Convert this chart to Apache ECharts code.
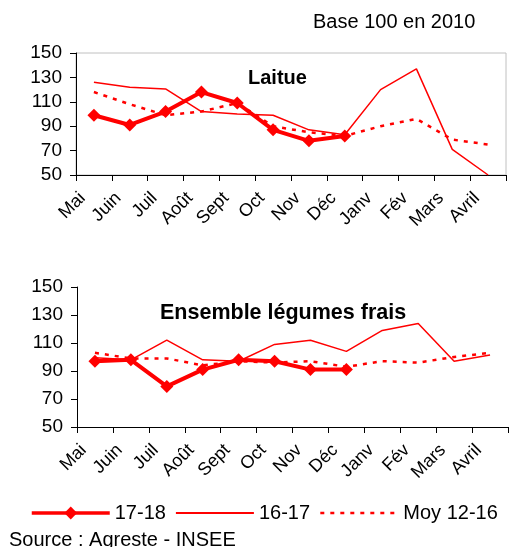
<!DOCTYPE html>
<html><head><meta charset="utf-8">
<script src="https://cdn.jsdelivr.net/npm/echarts@6/dist/echarts.min.js"></script>
<style>html,body{margin:0;padding:0;background:#fff}#c{width:509px;height:547px}</style>
</head><body><div id="c"></div>
<script>
const months = ['Mai','Juin','Juil','Août','Sept','Oct','Nov','Déc','Janv','Fév','Mars','Avril'];
const yTicks = [50, 70, 90, 110, 130, 150];
const laitue1718 = [99, 91, 102, 118, 109, 87, 78, 82, null, null, null, null];
const laitue1617 = [126, 122, 120.5, 102, 100, 99, 87, 83, 120, 137, 71, 50];
const laitueMoy = [118, 108, 99, 102, 109, 90, 85, 82, 90, 96, 79, 75];
const leg1718 = [97, 98, 79, 91, 98, 97, 91, 91, null, null, null, null];
const leg1617 = [99.5, 98, 112, 98, 97, 109, 112, 104, 119, 124, 97, 101.5];
const legMoy = [103, 99, 99, 94, 97, 96, 97, 93, 97, 96, 100, 103];

const FONT = 'Liberation Sans, Arial, sans-serif';
const RED = '#ff0000';
const chart = echarts.init(document.getElementById('c'));

function xAxis(gi) {
  return {
    type: 'category', gridIndex: gi, data: months, boundaryGap: true,
    axisLine: {lineStyle: {color: '#000', width: 1}},
    axisTick: {show: true, length: 6, lineStyle: {color: '#000'}},
    axisLabel: {rotate: 45, interval: 0, margin: 9, padding: [0, 16, 0, 0], color: '#000', fontSize: 18, fontFamily: FONT}
  };
}
function yAxis(gi) {
  return {
    type: 'value', gridIndex: gi, min: yTicks[0], max: yTicks[yTicks.length - 1], interval: 20,
    axisLine: {show: true, lineStyle: {color: '#000', width: 1}},
    axisTick: {show: true, length: 6, lineStyle: {color: '#000'}},
    splitLine: {show: false},
    axisLabel: {margin: 14, color: '#000', fontSize: 19, fontFamily: FONT}
  };
}
function s1718(data, i) {
  return {name: '17-18', type: 'line', xAxisIndex: i, yAxisIndex: i, data: data, z: 5,
    symbol: 'diamond', symbolSize: 13, showSymbol: true,
    lineStyle: {color: RED, width: 4}, itemStyle: {color: RED}, connectNulls: false, animation: false};
}
function s1617(data, i) {
  return {name: '16-17', type: 'line', xAxisIndex: i, yAxisIndex: i, data: data, z: 3,
    symbol: 'none', lineStyle: {color: RED, width: 1.5}, itemStyle: {color: RED}, animation: false};
}
function sMoy(data, i) {
  return {name: 'Moy 12-16', type: 'line', xAxisIndex: i, yAxisIndex: i, data: data, z: 2,
    symbol: 'none', lineStyle: {color: RED, width: 2.5, type: [4, 6]}, itemStyle: {color: RED}, animation: false};
}

chart.setOption({
  animation: false,
  grid: [
    {left: 76, right: 3, top: 53, height: 122, show: true, borderColor: '#c0c0c0', borderWidth: 1},
    {left: 77, right: 1, top: 287, height: 140}
  ],
  xAxis: [xAxis(0), xAxis(1)],
  yAxis: [yAxis(0), yAxis(1)],
  legend: {
    left: 30, top: 503, padding: 0, itemWidth: 78, itemHeight: 16, itemGap: 9,
    data: [
      {name: '17-18', lineStyle: {width: 3.5}},
      {name: '16-17', itemStyle: {opacity: 0}, lineStyle: {width: 2}},
      {name: 'Moy 12-16', itemStyle: {opacity: 0}, lineStyle: {width: 2.5}}
    ],
    textStyle: {color: '#000', fontSize: 20, fontFamily: FONT}
  },
  graphic: [
    {type: 'text', left: 313, top: 12, style: {text: 'Base 100 en 2010', fontSize: 20, fontFamily: FONT, fill: '#000'}},
    {type: 'text', left: 248, top: 68, style: {text: 'Laitue', fontSize: 20, fontWeight: 'bold', fontFamily: FONT, fill: '#000'}},
    {type: 'text', left: 160, top: 302, style: {text: 'Ensemble légumes frais', fontSize: 21.5, fontWeight: 'bold', fontFamily: FONT, fill: '#000'}},
    {type: 'text', left: 9, top: 530, style: {text: 'Source : Agreste - INSEE', fontSize: 20, fontFamily: FONT, fill: '#000'}}
  ],
  series: [
    sMoy(laitueMoy, 0), s1617(laitue1617, 0), s1718(laitue1718, 0),
    sMoy(legMoy, 1), s1617(leg1617, 1), s1718(leg1718, 1)
  ]
});
</script></body></html>
